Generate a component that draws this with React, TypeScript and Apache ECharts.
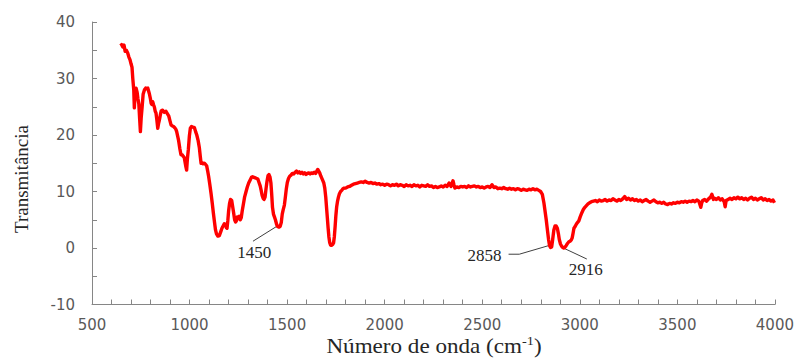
import React, { useEffect, useRef } from "react";
import * as echarts from "echarts";

// FTIR spectrum: wavenumber (cm-1) and transmittance
const wavenumber: number[] = [
  646, 652, 658, 664, 670, 676, 683, 689, 695, 700, 705, 709, 714, 717, 721, 726, 731, 735, 740, 744,
  748, 752, 757, 762, 769, 775, 781, 786, 790, 794, 799, 803, 807, 811, 816, 820, 824, 828, 832, 837,
  841, 845, 850, 855, 862, 870, 879, 886, 893, 899, 905, 912, 918, 924, 930, 934, 939, 944, 950, 956,
  962, 968, 973, 977, 981, 985, 989, 994, 999, 1004, 1010, 1017, 1025, 1031, 1037, 1044, 1050, 1055, 1059, 1065,
  1070, 1076, 1082, 1088, 1093, 1098, 1104, 1110, 1116, 1122, 1128, 1133, 1138, 1145, 1153, 1160, 1166, 1172, 1178, 1184,
  1189, 1192, 1196, 1200, 1205, 1210, 1216, 1221, 1226, 1231, 1236, 1240, 1245, 1250, 1255, 1260, 1265, 1270, 1276, 1282,
  1289, 1296, 1303, 1310, 1317, 1323, 1330, 1337, 1344, 1350, 1356, 1362, 1367, 1372, 1377, 1382, 1387, 1392, 1397, 1402,
  1407, 1412, 1417, 1421, 1425, 1430, 1435, 1440, 1446, 1451, 1458, 1464, 1470, 1475, 1480, 1486, 1491, 1496, 1501, 1507,
  1513, 1520, 1527, 1534, 1541, 1548, 1555, 1562, 1569, 1576, 1583, 1590, 1597, 1604, 1611, 1618, 1625, 1632, 1639, 1646,
  1652, 1657, 1662, 1667, 1672, 1677, 1682, 1688, 1693, 1698, 1702, 1706, 1710, 1714, 1718, 1723, 1728, 1733, 1738, 1742,
  1746, 1750, 1754, 1758, 1763, 1768, 1774, 1780, 1786, 1792,
  1800, 1810, 1820, 1830, 1840, 1850, 1860, 1870, 1880, 1890, 1900, 1910, 1920, 1930, 1940, 1950, 1960, 1970, 1980, 1990,
  2000, 2010, 2020, 2030, 2040, 2050, 2060, 2070, 2080, 2090, 2100, 2110, 2120, 2130, 2140, 2150, 2160, 2170, 2180, 2190,
  2200, 2210, 2220, 2230, 2240, 2250, 2260, 2270, 2280, 2290, 2300, 2310, 2320, 2330, 2340, 2350, 2355, 2360, 2370, 2380,
  2390, 2400, 2410, 2420, 2430, 2440, 2450, 2460, 2470, 2480, 2490, 2500, 2510, 2520, 2530, 2540, 2550, 2560, 2570, 2580,
  2590, 2600, 2610, 2620, 2630, 2640, 2650, 2660, 2670, 2680, 2690, 2700, 2710, 2720, 2730, 2740, 2750, 2760, 2770, 2780,
  2790, 2799, 2808, 2816, 2822, 2828, 2834, 2840, 2845, 2850, 2856, 2861, 2867, 2873, 2879, 2885, 2890, 2895, 2901, 2907,
  2913, 2918, 2923, 2930, 2937, 2944, 2950, 2956, 2961, 2966, 2970, 2976, 2982, 2988, 2995, 3002, 3010, 3018, 3026, 3034,
  3042, 3050, 3060, 3070, 3080, 3090, 3100, 3110, 3120, 3130, 3140, 3150, 3160, 3170, 3180, 3190, 3200, 3210, 3220, 3230,
  3240, 3250, 3260, 3270, 3280, 3290, 3300, 3310, 3320, 3330, 3340, 3350, 3360, 3370, 3380, 3390, 3400, 3410, 3420, 3430,
  3440, 3450, 3460, 3470, 3480, 3490, 3500, 3510, 3520, 3530, 3540, 3550, 3560, 3570, 3580, 3590, 3600, 3610, 3620, 3625,
  3630, 3640, 3650, 3660, 3670, 3677, 3685, 3690, 3700, 3710, 3720, 3730, 3740, 3745, 3750, 3760, 3770, 3780, 3790, 3800,
  3810, 3820, 3830, 3840, 3850, 3860, 3870, 3880, 3890, 3900, 3910, 3920, 3930, 3940, 3950, 3960, 3970, 3980, 3990, 3998,
];

const transmittance: number[] = [
  35.8, 36.0, 35.6, 35.9, 34.8, 35.0, 34.5, 33.8, 33.3, 32.6, 32.0, 30.0, 28.0, 24.8, 27.5, 28.3, 27.6, 26.5, 25.5, 23.0,
  20.6, 23.0, 25.0, 27.2, 28.0, 28.3, 28.2, 28.3, 27.8, 27.3, 26.5, 25.6, 25.4, 25.9, 25.3, 24.9, 24.2, 23.9, 22.8, 21.2,
  22.0, 22.6, 23.5, 24.3, 24.4, 24.0, 24.2, 23.8, 23.4, 22.6, 21.8, 21.6, 21.5, 21.3, 21.0, 20.6, 19.8, 19.0, 17.6, 16.5,
  16.5, 16.2, 16.0, 15.2, 14.4, 13.8, 15.8, 17.5, 19.8, 21.2, 21.5, 21.4, 21.3, 20.6, 20.0, 19.0, 17.8, 16.2, 15.0, 15.1,
  14.9, 15.0, 14.8, 14.5, 13.6, 12.6, 11.2, 9.7, 8.0, 6.2, 4.5, 3.2, 2.5, 2.1, 2.2, 2.9, 3.5, 3.9, 4.3, 4.2,
  3.6, 3.5, 4.8, 6.5, 7.9, 8.6, 8.4, 7.3, 6.2, 5.0, 4.6, 4.8, 5.5, 5.2, 5.6, 5.0, 5.4, 6.6, 7.8, 9.0,
  9.9, 10.8, 11.5, 12.0, 12.5, 12.6, 12.5, 12.4, 12.3, 12.2, 11.6, 11.0, 10.2, 9.3, 8.8, 8.6, 9.0, 10.5, 11.8, 12.8,
  13.0, 12.6, 11.5, 9.5, 7.2, 6.0, 5.5, 5.0, 4.2, 3.8, 3.7, 3.8, 4.5, 6.0, 6.8, 7.6, 9.0, 10.5, 11.6, 12.3,
  12.7, 12.9, 13.2, 13.1, 13.4, 13.6, 13.3, 13.5, 13.2, 13.4, 13.1, 13.3, 13.0, 13.2, 13.3, 13.1, 13.3, 13.2, 13.4, 13.2,
  13.6, 13.9, 13.6, 13.3, 12.8, 12.4, 12.0, 11.5, 10.6, 9.0, 7.2, 5.4, 3.6, 2.0, 1.0, 0.5, 0.5, 0.6, 0.9, 2.0,
  3.8, 5.8, 7.3, 8.2, 9.0, 9.6, 10.0, 10.2, 10.5, 10.6,
  10.6, 10.8, 10.9, 11.1, 11.3, 11.4, 11.5, 11.6, 11.7, 11.6, 11.8, 11.6, 11.5, 11.6, 11.4, 11.5, 11.3, 11.4, 11.2, 11.3,
  11.1, 11.3, 11.2, 11.0, 11.2, 11.1, 11.3, 11.0, 11.2, 11.1, 10.9, 11.2, 11.0, 11.1, 10.9, 11.2, 11.0, 11.1, 10.8, 11.1,
  11.0, 10.9, 11.2, 10.9, 11.0, 10.7, 10.9, 10.7, 10.8, 11.0, 10.8, 11.1, 10.9, 11.5, 10.9, 11.9, 11.2, 10.6, 10.8, 10.7,
  10.9, 10.8, 10.9, 10.7, 11.0, 10.8, 10.9, 11.0, 10.8, 10.9, 10.7, 10.8, 10.6, 10.8, 10.9, 10.7, 11.2, 10.7, 10.8, 10.5,
  10.6, 10.5, 10.7, 10.5, 10.4, 10.6, 10.4, 10.5, 10.3, 10.5, 10.4, 10.2, 10.4, 10.3, 10.2, 10.4, 10.3, 10.5, 10.3, 10.4,
  10.2, 10.0, 9.5, 8.0, 6.5, 5.0, 3.2, 1.5, 0.4, 0.1, 0.2, 1.5, 3.2, 3.9, 3.9, 3.5, 2.6, 1.5, 0.7, 0.3,
  0.1, 0.0, 0.1, 0.4, 0.8, 1.1, 1.2, 1.4, 1.8, 2.7, 3.5, 3.8, 4.2, 4.5, 4.8, 5.5, 6.2, 6.8, 7.2, 7.5,
  7.8, 8.0, 8.2, 8.3, 8.4, 8.2, 8.5, 8.3, 8.4, 8.6, 8.3, 8.5, 8.4, 8.7, 8.5, 8.3, 8.6, 8.4, 8.7, 9.1,
  8.6, 8.8, 8.5, 8.7, 8.4, 8.6, 8.3, 8.5, 8.2, 8.4, 8.6, 8.3, 8.1, 8.3, 8.5, 8.2, 8.0, 8.1, 7.9, 8.1,
  7.8, 7.7, 7.9, 7.8, 8.0, 7.9, 8.1, 8.0, 8.2, 8.1, 8.3, 8.1, 8.3, 8.2, 8.4, 8.2, 8.5, 8.3, 7.2, 8.0,
  8.4, 8.6, 8.3, 8.7, 9.0, 9.5, 8.6, 8.8, 8.6, 8.9, 8.5, 8.7, 8.2, 7.3, 8.4, 8.6, 8.8, 8.6, 8.9, 8.7,
  9.0, 8.7, 8.9, 8.6, 8.8, 8.5, 8.8, 9.0, 8.6, 8.8, 8.5, 8.7, 8.9, 8.5, 8.7, 8.4, 8.6, 8.3, 8.5, 8.0,
];

// Band labels: wavenumber of the band, label position and leader elbow (data units)
const bandLabels: string[] = ["1450", "2858", "2916"];
const bandTips: number[][] = [[1450, 3.9], [2858, 0.6], [2916, 0.0]];
const bandElbows: number[][][] = [
  [[1325, 1.2]],
  [[2635, -1.1], [2690, -1.1]],
  [[3036, -1.95]],
];
const bandTextPos: number[][] = [[1332, -0.85], [2512, -1.35], [3031, -3.75]];

const xTicks = { min: 500, max: 4000, step: 100, labelStep: 500 };
const yTicks = { min: -10, max: 40, step: 5, labelStep: 10 };

const axisGray = "#868686";
const labelGray = "#595959";
const serif = "'Liberation Serif', 'Times New Roman', serif";

export default function App() {
  const ref = useRef<HTMLDivElement>(null);

  useEffect(() => {
    if (!ref.current) return;
    const chart = echarts.init(ref.current, null, { renderer: "svg" });
    const data = wavenumber.map((w, i) => [w, transmittance[i]]);

    chart.setOption({
      animation: false,
      grid: { left: 92, right: 20, top: 22, bottom: 54.5 },
      xAxis: {
        type: "value",
        min: xTicks.min,
        max: xTicks.max,
        interval: xTicks.step,
        axisLine: { show: true, onZero: false, lineStyle: { color: axisGray, width: 1 } },
        axisTick: { show: true, inside: true, length: 5, lineStyle: { color: axisGray } },
        splitLine: { show: false },
        axisLabel: {
          margin: 13,
          color: labelGray,
          fontFamily: "'DejaVu Sans', Verdana, sans-serif",
          fontSize: 15,
          formatter: (v: number) => (v % xTicks.labelStep === 0 ? String(v) : ""),
        },
      },
      yAxis: {
        type: "value",
        min: yTicks.min,
        max: yTicks.max,
        interval: yTicks.step,
        axisLine: { show: true, onZero: false, lineStyle: { color: axisGray, width: 1 } },
        axisTick: { show: true, inside: true, length: 5, lineStyle: { color: axisGray } },
        splitLine: { show: false },
        axisLabel: {
          margin: 17,
          color: labelGray,
          fontFamily: "'DejaVu Sans', Verdana, sans-serif",
          fontSize: 15,
          formatter: (v: number) => (v % yTicks.labelStep === 0 ? String(v) : ""),
        },
      },
      series: [
        {
          type: "line",
          data,
          showSymbol: false,
          smooth: false,
          lineStyle: { color: "#ff0000", width: 3.4, join: "round" },
          silent: true,
        },
      ],
    });

    const toPx = (p: number[]) =>
      chart.convertToPixel({ xAxisIndex: 0, yAxisIndex: 0 }, p) as number[];

    const annotations: any[] = [];
    bandLabels.forEach((label, i) => {
      const pts = [...bandElbows[i], bandTips[i]].map(toPx);
      annotations.push({
        type: "polyline",
        shape: { points: pts },
        style: { stroke: "#404040", lineWidth: 1, fill: null },
        silent: true,
      });
      const t = toPx(bandTextPos[i]);
      annotations.push({
        type: "text",
        x: t[0],
        y: t[1],
        style: {
          text: label,
          fill: "#262626",
          font: `17px ${serif}`,
          align: "center",
          verticalAlign: "middle",
        },
        silent: true,
      });
    });

    chart.setOption({
      graphic: [
        ...annotations,
        {
          type: "text",
          x: 21,
          y: 179,
          rotation: Math.PI / 2,
          style: {
            text: "Transmitância",
            fill: "#262626",
            font: `19px ${serif}`,
            align: "center",
            verticalAlign: "middle",
          },
          silent: true,
        },
        {
          type: "text",
          x: 434,
          y: 346,
          scaleX: 1.1,
          style: {
            text: "{a|Número de onda (cm}{s|-1}{a|)}",
            align: "center",
            verticalAlign: "middle",
            rich: {
              a: { fontFamily: serif, fontSize: 21, lineHeight: 23, fill: "#262626", color: "#262626" },
              s: {
                fontFamily: serif,
                fontSize: 13,
                lineHeight: 13,
                verticalAlign: "top",
                fill: "#262626",
                color: "#262626",
              },
            },
          },
          silent: true,
        },
      ],
    });

    return () => chart.dispose();
  }, []);

  return (
    <div
      ref={ref}
      style={{ position: "absolute", left: 0, top: 0, width: 797, height: 359 }}
    />
  );
}
